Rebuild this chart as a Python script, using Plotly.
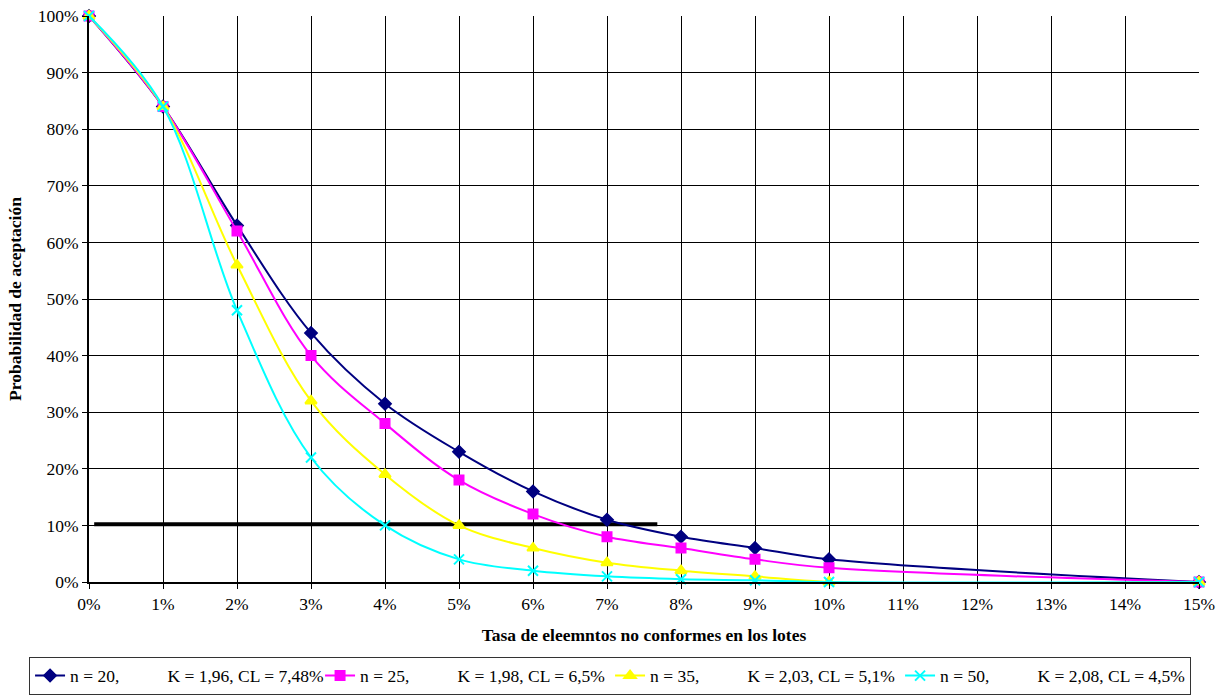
import plotly.graph_objects as go

x_rate = [0, 1, 2, 3, 4, 5, 6, 7, 8, 9, 10, 15]
p_n20 = [100, 84, 63, 44, 31.5, 23, 16, 11, 8, 6, 4, 0]
p_n25 = [100, 84, 62, 40, 28, 18, 12, 8, 6, 4, 2.5, 0]
p_n35 = [100, 84, 56, 32, 19, 10, 6, 3.4, 2, 1, 0, 0]
p_n50 = [100, 84, 48, 22, 10, 4, 2, 1, 0.5, 0.3, 0, 0]

SP = "\u00a0" * 11
series_names = [
    "n = 20," + SP + "K = 1,96, CL = 7,48%",
    "n = 25," + SP + "K = 1,98, CL = 6,5%",
    "n = 35," + SP + "K = 2,03, CL = 5,1%",
    "n = 50," + SP + "K = 2,08, CL = 4,5%",
]
series_values = [p_n20, p_n25, p_n35, p_n50]
colors = ["#000080", "#FF00FF", "#FFFF00", "#00FFFF"]
symbols = ["diamond", "square", "triangle-up", "x-thin"]
sizes = [9, 9, 10, 10]

ref_line_x = [0.07, 7.68]
ref_line_y = [10.2, 10.2]

FONT = '"Liberation Serif", "Times New Roman", Times, serif'
FS = 17.5

fig = go.Figure()

fig.add_trace(go.Scatter(
    x=ref_line_x, y=ref_line_y, mode="lines",
    line=dict(color="black", width=4), showlegend=False, hoverinfo="skip"))

for name, vals, c, s, sz in zip(series_names, series_values, colors, symbols, sizes):
    fig.add_trace(go.Scatter(
        x=x_rate, y=vals, name=name, mode="lines+markers",
        line=dict(color=c, width=2, shape="spline", smoothing=1),
        marker=dict(symbol=s, size=sz, color=c, line=dict(color=c, width=2)),
        cliponaxis=False,
    ))

fig.update_layout(
    width=1224, height=696,
    margin=dict(l=89, r=25, t=16, b=114, autoexpand=False),
    paper_bgcolor="white", plot_bgcolor="white",
    font=dict(family=FONT, size=FS, color="black"),
    showlegend=True,
    legend=dict(
        orientation="h", x=-0.054, xanchor="left", y=-0.132, yanchor="top",
        bordercolor="#333333", borderwidth=1, font=dict(family=FONT, size=FS),
        itemwidth=30, tracegroupgap=0, entrywidth=245, entrywidthmode="pixels",
    ),
    xaxis=dict(
        range=[0, 15], dtick=1, tick0=0, ticksuffix="%",
        showgrid=True, gridcolor="black", gridwidth=1,
        showline=True, linecolor="black", linewidth=2,
        ticks="outside", ticklen=5, tickcolor="black",
        zeroline=False, tickfont=dict(size=FS),
        title=dict(text="<b>Tasa de eleemntos no conformes en los lotes</b>",
                   font=dict(size=FS), standoff=16),
    ),
    yaxis=dict(
        range=[0, 100], dtick=10, tick0=0, ticksuffix="%",
        showgrid=True, gridcolor="black", gridwidth=1,
        showline=True, linecolor="black", linewidth=2,
        ticks="outside", ticklen=5, tickcolor="black",
        zeroline=False, tickfont=dict(size=FS),
        title=dict(text="<b>Probabilidad de aceptación</b>",
                   font=dict(size=FS), standoff=12),
    ),
)

fig.write_html("out.html", config={"displayModeBar": False},
               post_script="document.body.style.margin='0';")
